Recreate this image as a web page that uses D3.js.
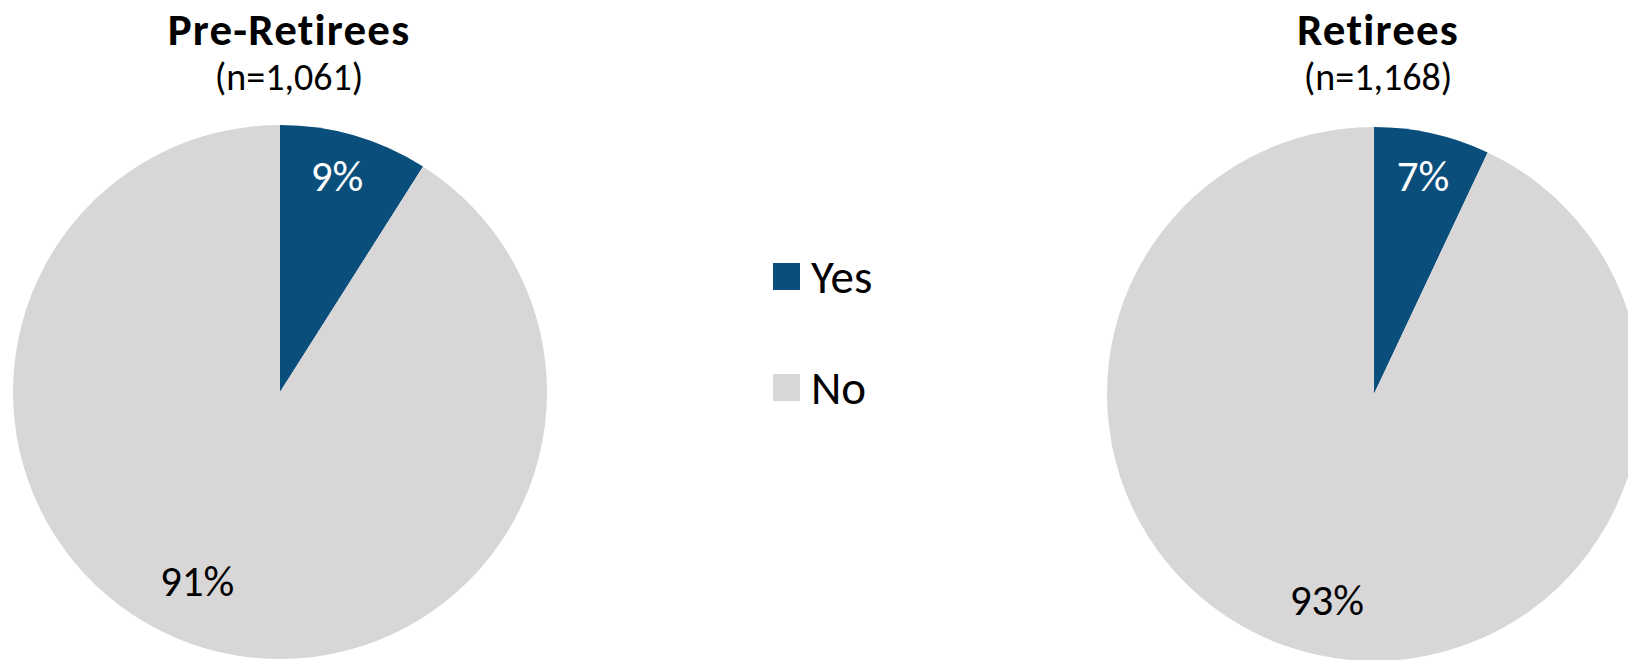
<!DOCTYPE html>
<html><head><meta charset="utf-8">
<script src="https://cdn.jsdelivr.net/npm/d3@7"></script>
<style>
html,body{margin:0;padding:0;background:#fff;}
svg{display:block;}
text{font-family:Carlito,Lato,"Liberation Sans",sans-serif;}
</style></head>
<body>
<svg id="chart" width="1628" height="660"></svg>
<script>
const categories = ["Yes", "No"];
const groups = ["Pre-Retirees", "Retirees"];
const sampleSizes = ["(n=1,061)", "(n=1,168)"];
const yesValues = [9, 7];
const noValues = [91, 93];
const colors = ["#0A4F7C", "#D8D6D7"];
const labelColors = ["#FFFFFF", "#000000"];

const svg = d3.select("#chart");
const R = 267;
const centers = [[280, 392], [1374, 394]];
const labelAngleShift = [[-1.5, 7.6], [0, 0.3]]; // degrees nudge of label placement (Excel best-fit)
const labelRadius = [[0.84, 0.77], [0.84, 0.79]];

const pie = d3.pie().sort(null).value(d => d.value);
const arc = d3.arc().innerRadius(0).outerRadius(R);

groups.forEach((g, i) => {
  const data = categories.map((c, k) => ({cat: c, value: k === 0 ? yesValues[i] : noValues[i], k}));
  const arcs = pie(data);
  const gp = svg.append("g").attr("transform", `translate(${centers[i][0]},${centers[i][1]})`);
  gp.selectAll("path").data(arcs).join("path")
    .attr("d", arc)
    .attr("fill", d => colors[d.data.k]);
  gp.selectAll("text.lbl").data(arcs).join("text")
    .attr("class", "lbl")
    .attr("transform", d => {
      const mid = (d.startAngle + d.endAngle) / 2 + labelAngleShift[i][d.data.k] * Math.PI / 180;
      const lr = labelRadius[i][d.data.k] * R;
      return `translate(${Math.sin(mid) * lr},${-Math.cos(mid) * lr})`;
    })
    .attr("text-anchor", "middle")
    .attr("dy", "0.36em")
    .attr("font-size", 43)
    .attr("fill", d => labelColors[d.data.k])
    .text(d => d.data.value + "%");

  const tx = centers[i][0] + (i === 0 ? 9 : 4);
  svg.append("text").attr("x", tx).attr("y", 45)
    .attr("text-anchor", "middle").attr("font-size", 45).attr("font-weight", "bold")
    .attr("letter-spacing", 1.2)
    .attr("fill", "#000").text(g);
  svg.append("text").attr("x", tx).attr("y", 90)
    .attr("text-anchor", "middle").attr("font-size", 38)
    .attr("fill", "#000").text(sampleSizes[i]);
});

const legend = svg.append("g").attr("transform", "translate(773,263)");
const li = legend.selectAll("g").data(categories).join("g")
  .attr("transform", (d, k) => `translate(0,${k * 111})`);
li.append("rect").attr("width", 27).attr("height", 27).attr("fill", (d, k) => colors[k]);
li.append("text").attr("x", 38).attr("y", 30).attr("font-size", 47).attr("fill", "#000").text(d => d);
</script>
</body></html>
